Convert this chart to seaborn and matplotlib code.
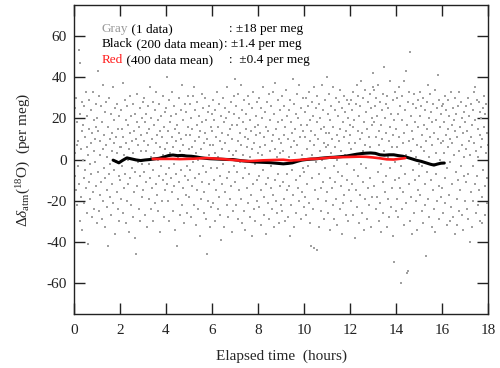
import numpy as np
import pandas as pd
import matplotlib
matplotlib.use("Agg")
import matplotlib.pyplot as plt
import seaborn as sns

# gray dots: one list per elapsed hour, values in per meg (time order)
h00 = [12, -8, 25, 3, -15, 30, 7, -22, 18, -3, 9, 53, -12, 47, 22, -30, 5, -18, 28, 14, -34, 0, 17, -9, 26, -21, 11, -5, 33, -14, 6, 21, -26, 2, -41, 15, -11, 29, -2, -19, 8, 24, -7, -28, 13, 33, -16, 4, 19, -24, 10, -1, 27, -13, 16, -31]
h01 = [20, 43, -6, 14, -25, 31, 2, -17, 9, 26, -11, -29, 18, 5, -20, 36, -4, 12, -33, 23, -9, 7, 28, -15, 1, -23, -42, 16, -7, 30, -18, 10, -2, 22, -27, 4, 13, -12, 35, -21, 8, -5, 19, -36, 25, -1, 11, -16, 27, 3, -24, 15, -8, 21, -30, 6]
h02 = [-10, 24, 6, -19, 15, -3, 37, -26, 11, 2, -14, 29, -7, 19, -31, 8, -20, 26, 0, -12, 17, -35, 5, 31, -9, 13, -22, 21, -4, 9, -28, 27, 3, -16, 14, -38, 22, -6, 10, -46, 18, -13, 32, -1, 7, -24, 16, -8, 25, -30, 4, 12, -18, 20, -2, 28]
h03 = [-15, 9, 30, -6, 18, -27, 4, 22, -11, 13, -33, 7, 26, -2, -19, 15, 35, -9, 1, -24, 20, 10, -14, 28, -5, -30, 17, 3, -21, 24, 8, -12, 33, -17, 12, 0, -25, 19, -8, 27, 6, -35, 14, -3, 21, -20, 11, 31, -10, 2, -28, 16, 5, -15, 23, -7]
h04 = [25, -12, 8, 40, -20, 14, -4, 29, -30, 3, 18, -9, 21, -16, 11, 33, -25, 6, -2, 26, -13, 15, -34, 9, 22, -7, -42, 17, 1, -19, 30, -11, 13, 4, -27, 24, -5, 10, -22, 36, -14, 7, 19, -31, 2, 27, -8, 12, -17, 23, -3, -26, 16, 31, -10, 5]
h05 = [-18, 12, 27, -5, 20, -28, 6, 15, -13, 31, -1, 35, -22, 9, -9, 24, 3, -32, 17, -15, 28, 0, -24, 11, 21, -7, -37, 14, 5, -19, 32, -11, 18, -3, 25, -26, 8, -16, 13, 30, -6, -29, 19, -46, 10, -20, 23, 2, -12, 26, -33, 7, 16, -4, -23, 22]
h06 = [14, -21, 7, 29, -10, 19, -30, 3, 24, -15, 11, -4, 33, -24, 16, 1, -18, 27, -8, 9, -27, 21, -39, 5, 13, -12, 30, -2, 18, -33, 8, 25, -16, 0, 20, -9, 35, -22, 12, -28, 4, 23, -6, 15, -19, 28, -13, 10, -35, 17, 2, -25, 31, -3, 22, 39]
h07 = [-11, 26, 4, -22, 17, -6, 32, -29, 9, 20, -15, 13, -1, 36, -19, 7, -31, 24, 2, -9, 18, -25, 29, 11, -4, -34, 15, 22, -14, 6, 31, -21, 10, -7, 27, -28, 1, 19, -17, 14, -37, 25, 5, -12, 33, -24, 8, 16, -2, -30, 21, 12, -10, 28, -20, 3]
h08 = [17, -8, 30, -23, 6, 13, -15, 25, -32, 2, 20, -5, 35, -18, 11, -27, 23, 7, -12, 16, -36, 28, 0, -21, 14, -9, 32, -29, 4, 19, -14, 26, -3, 9, -24, 33, -17, 12, -33, 22, 5, -10, 37, -20, 15, 1, -26, 29, -7, 18, -31, 10, 24, -13, 3, -22]
h09 = [8, -25, 19, 31, -11, 4, -19, 26, 12, -30, 16, -2, 34, -15, 21, -7, 10, -28, 24, 1, -13, 29, -37, 6, 18, -22, 13, -5, 39, -17, 9, 27, -33, 3, 15, -10, 22, -26, 7, 32, -14, 0, 20, -20, 36, 11, -8, 25, -29, 17, 2, -16, 30, -4, 14, -23]
h10 = [-6, 23, 11, -18, 30, -27, 5, 17, -12, 26, -3, 33, -21, 9, 19, -31, 14, -42, 2, 28, -9, 21, -24, 7, 35, -43, 12, -15, 25, -1, 18, -44, 31, -19, 10, -7, 27, -33, 4, 20, -14, 15, -25, 36, 0, -11, 24, 8, -29, 16, -4, 29, -20, 13, 6, 40]
h11 = [-16, 22, 7, -26, 32, 13, -9, 19, -34, 3, 26, -14, 10, 35, -22, 16, -3, -29, 24, 6, -11, 30, -19, 12, 0, -32, 21, -6, 28, 9, -24, 15, 34, -13, 4, -36, 25, -8, 18, -21, 11, 31, -17, 2, 23, -27, 14, -2, 29, -10, 20, -30, 8, 27, -15, 17]
h12 = [12, -20, 29, 5, -12, 24, -27, 16, 33, -5, 19, -38, 8, 27, -15, 2, 36, -23, 14, -8, 31, -31, 21, 10, -17, 26, -2, 38, -26, 13, 4, -11, 30, -34, 18, 7, -19, 34, -4, 23, -29, 15, 1, 28, -14, 11, -22, 32, 6, -9, 25, -33, 17, 20, -18, 35]
h13 = [42, 18, 34, -13, 26, 3, -24, 30, 11, -18, 21, -6, 36, -30, 14, 7, -21, 28, -2, 17, -35, 24, 10, -11, 32, -26, 45, 4, -16, 20, 27, -8, 13, -33, 31, 1, -19, 25, 9, -28, 38, -4, 16, -23, 22, 6, -14, 29, -37, 12, -50, 19, -10, 33, -1, -25]
h14 = [15, -19, 30, 6, -28, 22, -9, 35, 11, -14, 26, -60, -3, 19, -24, 31, 8, -16, 38, -32, 13, 24, -7, 2, -21, 43, -55, 17, -54, 28, -12, 9, 33, -30, 52, 4, -18, 21, -36, 14, 27, -5, 10, -26, 32, -10, 18, 1, -20, 25, -34, 7, 16, -15, 29, -2]
h15 = [-8, 21, 33, -17, 6, 26, -25, 12, -3, 30, -31, 17, 4, -12, 24, -22, 9, -47, 28, 15, -6, 36, -19, 1, 20, -28, 11, 32, -10, 23, -33, 7, 18, -15, 27, -2, 13, -24, 34, -35, 19, -7, 3, 25, -20, 41, 10, -13, 29, -29, 16, 0, 22, -18, 8, 26]
h16 = [-14, 27, 9, -26, 18, 3, -9, 31, -21, 12, 24, -4, -32, 15, 6, 29, -17, 21, -30, 10, -1, 33, -23, 17, 8, -12, 25, -28, 2, 19, -36, 14, 30, -6, 22, -19, 11, -32, 26, -10, 4, 33, -25, 16, -15, 28, -3, 7, -27, 20, 13, -34, 23, -8, 1, -20]
h17 = [18, -11, 26, 5, -24, 14, -7, 30, -29, 9, 21, -40, 2, -16, 27, 11, -33, 17, -3, 24, -20, 8, 33, 35, -12, 19, -26, 4, 29, -8, 15, -22, 1, 28, -15, 12, 23, -30, 6, 20, -18, 10, -31, 25, -5, 31, 16, -13, 22, -27, 3, 27, -9, 13, -21, 7]
hours = [h00, h01, h02, h03, h04, h05, h06, h07, h08, h09, h10, h11, h12, h13, h14, h15, h16, h17]

# 200 data running mean (black)
black_t = [1.7, 1.8, 1.95, 2.1, 2.3, 2.5, 2.7, 2.9, 3.1, 3.3, 3.5, 3.7, 3.9, 4.1, 4.3, 4.5, 4.7, 4.9,
           5.1, 5.3, 5.5, 5.7, 5.9, 6.1, 6.3, 6.5, 6.7, 6.9, 7.1, 7.3, 7.5, 7.7, 7.9, 8.1, 8.3, 8.5,
           8.7, 8.9, 9.1, 9.3, 9.5, 9.7, 9.9, 10.1, 10.3, 10.5, 10.7, 10.9, 11.1, 11.3, 11.5, 11.7,
           11.9, 12.1, 12.3, 12.5, 12.7, 12.9, 13.1, 13.3, 13.5, 13.7, 13.9, 14.1, 14.3, 14.5, 14.7,
           14.9, 15.1, 15.3, 15.5, 15.65, 15.8, 15.95, 16.1]
black_v = [-0.3, -0.8, -1.6, -0.5, 0.8, 0.3, -0.2, -0.5, -0.2, 0.0, 0.3, 0.6, 1.2, 1.9, 2.2, 1.9, 2.0, 1.7,
           1.6, 1.3, 0.9, 0.6, 0.4, 0.3, 0.2, 0.1, 0.0, 0.0, -0.3, -0.6, -0.8, -1.0, -1.2, -1.3, -1.4, -1.5,
           -1.7, -1.9, -2.1, -1.9, -1.6, -0.9, -0.3, 0.0, 0.2, 0.3, 0.6, 0.8, 1.0, 1.1, 1.3, 1.5,
           1.8, 2.2, 2.6, 2.9, 3.1, 3.2, 3.0, 2.3, 2.1, 2.3, 2.3, 1.9, 1.6, 1.0, 0.3,
           -0.4, -0.9, -1.6, -2.3, -2.7, -2.2, -1.8, -1.7]

# 400 data running mean (red)
red_t = [3.42, 3.7, 4.0, 4.3, 4.6, 4.9, 5.2, 5.5, 5.8, 6.1, 6.4, 6.7, 7.0, 7.3, 7.6, 7.9, 8.2, 8.5, 8.8,
         9.1, 9.4, 9.7, 10.0, 10.3, 10.6, 10.9, 11.2, 11.5, 11.8, 12.1, 12.4, 12.7, 13.0, 13.3, 13.6,
         13.9, 14.2, 14.4]
red_v = [0.3, 0.3, 0.3, 0.3, 0.2, 0.3, 0.4, 0.6, 0.7, 0.5, 0.3, 0.0, -0.3, -0.6, -0.8, -0.6, -0.4, -0.3, -0.2,
         -0.1, -0.5, -0.3, 0.0, 0.3, 0.4, 0.7, 1.0, 1.1, 1.2, 1.3, 1.4, 1.3, 1.0, 0.6, 0.1,
         0.0, 0.4, 0.7]

# build the gray point table, readings spread evenly over each hour
rows = []
for h, vals in enumerate(hours):
    n = len(vals)
    for i, v in enumerate(vals):
        rows.append((h + (i + 0.5) / n, v))
gray = pd.DataFrame(rows, columns=["t", "d"])
black = pd.DataFrame({"t": black_t, "d": black_v})
red = pd.DataFrame({"t": red_t, "d": red_v})

sns.set_style("ticks")
plt.rcParams["font.family"] = ["Liberation Serif", "DejaVu Serif"]
plt.rcParams["mathtext.fontset"] = "custom"
plt.rcParams["mathtext.rm"] = "Liberation Serif"
plt.rcParams["mathtext.it"] = "Liberation Serif:italic"
plt.rcParams["axes.unicode_minus"] = False

fig = plt.figure(figsize=(5, 3.68), dpi=100)
ax = fig.add_axes([0.148, 0.147, 0.828, 0.839])

sns.scatterplot(data=gray, x="t", y="d", color="#a0a0a0", s=2.2, marker="s", linewidth=0, ax=ax)
sns.lineplot(data=black, x="t", y="d", color="black", linewidth=2.2, sort=False, estimator=None, ax=ax)
sns.lineplot(data=red, x="t", y="d", color="#ff1a1a", linewidth=1.9, sort=False, estimator=None, ax=ax)

ax.set_xlim(0, 18)
ax.set_ylim(-75, 75)
ax.set_xticks(range(0, 19, 2))
ax.set_yticks(range(-60, 61, 20))
ax.tick_params(direction="in", length=8, width=1, top=True, right=True, labelsize=11, colors="#222222")
ax.tick_params(axis="x", pad=7)
ax.tick_params(axis="y", pad=5)
for sp in ax.spines.values():
    sp.set_linewidth(1)
    sp.set_color("#222222")

ax.set_xlabel("Elapsed time  (hours)", fontsize=11, labelpad=9)
ax.set_ylabel(r"$\Delta\delta_{\rm atm}(^{18}{\rm O})$  (per meg)", fontsize=11, labelpad=10)

# legend-like notes
fs = 9.5
notes = [("Gray", "#9a9a9a", " (1 data)", 0.374, ": \u00b118 per meg", 0.922),
         ("Black", "black", " (200 data mean)", 0.362, ": \u00b11.4 per meg", 0.874),
         ("Red", "#ff1a1a", " (400 data mean)", 0.374, ":  \u00b10.4 per meg", 0.823)]
for word, col, rest, xc, tail, y in notes:
    t1 = ax.text(0.067, y, word, color=col, fontsize=fs, transform=ax.transAxes, va="center")
    ax.annotate(rest, xy=(1, 0.5), xycoords=t1, va="center", ha="left", fontsize=fs, color="black")
    ax.text(xc, y, tail, color="black", fontsize=fs, transform=ax.transAxes, va="center")

fig.savefig("out.png", dpi=100)
